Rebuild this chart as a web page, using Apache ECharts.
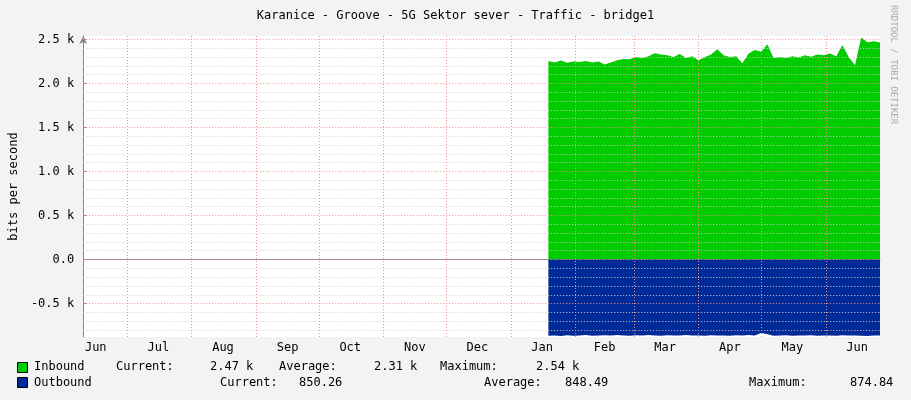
<!DOCTYPE html>
<html><head><meta charset="utf-8">
<script src="https://cdn.jsdelivr.net/npm/echarts@6/dist/echarts.min.js"></script>
<style>html,body{margin:0;background:#f3f3f3}#c{width:911px;height:400px}</style>
</head><body><div id="c"></div>
<script>
const startDate = '2023-01-19';
const stepDays = 3;
const inbound = [2257,2240,2262,2235,2250,2245,2255,2238,2250,2215,2240,2265,2280,2275,
2300,2290,2310,2345,2330,2320,2300,2335,2290,2310,2265,2300,2330,2390,2320,2300,2310,2230,2340,2380,
2360,2446,2287,2300,2290,2310,2295,2320,2303,2330,2322,2340,2310,2435,2300,2207,2522,2470,2480,2465];
const outbound = [-865,-862,-868,-860,-866,-864,-858,-866,-862,-860,-864,-858,-862,-866,
-860,-864,-858,-862,-866,-860,-864,-862,-858,-864,-862,-866,-860,-864,-862,-866,-860,-864,-858,-862,
-835,-850,-866,-864,-860,-866,-862,-864,-860,-866,-862,-864,-866,-860,-864,-862,-866,-868,-864,-862];
const monthLabels = ['Jun','Jul','Aug','Sep','Oct','Nov','Dec','Jan','Feb','Mar','Apr','May','Jun'];
const monthLabelDates = ['2022-06-16','2022-07-16','2022-08-16','2022-09-16','2022-10-16','2022-11-16','2022-12-16','2023-01-16','2023-02-15','2023-03-16','2023-04-16','2023-05-16','2023-06-16'];
const monthStarts = ['2022-07-01','2022-08-01','2022-09-01','2022-10-01','2022-11-01','2022-12-01','2023-01-01','2023-02-01','2023-03-01','2023-04-01','2023-05-01','2023-06-01'];
const yTicks = [-500,0,500,1000,1500,2000,2500];
const yTickLabels = ['-0.5 k','0.0','0.5 k','1.0 k','1.5 k','2.0 k','2.5 k'];
const xMin = '2022-06-10', xMax = '2023-06-27';

const t = s => new Date(s + 'T00:00:00Z').getTime();
const t0 = t(startDate);
const ts = i => t0 + i * stepDays * 86400000;
const inData = inbound.map((v,i)=>[ts(i),v]);
const outData = outbound.map((v,i)=>[ts(i),v]);
const labelTs = monthLabelDates.map(t);
const minor = [];
for (let v=-800; v<=2500; v+=100) if (v%500!==0) minor.push(v);
const font = 'DejaVu Sans Mono';
const dotted = (c)=>({color:c,type:[1,2],width:1});
const ml = [];
minor.forEach(v=>ml.push({yAxis:v,lineStyle:dotted('#cfcfcf')}));
yTicks.forEach(v=>ml.push({yAxis:v,lineStyle:dotted('#f09090')}));
monthStarts.forEach(d=>ml.push({xAxis:t(d),lineStyle:dotted('#f09090')}));

const chart = echarts.init(document.getElementById('c'));
const txt = (x,y,s)=>({type:'text',left:x,top:y,style:{text:s,font:'12px '+font,fill:'#000'}});
chart.setOption({
  backgroundColor:'#f3f3f3',
  animation:false,
  title:{text:'Karanice - Groove - 5G Sektor sever - Traffic - bridge1',left:'center',top:5,
    textStyle:{fontFamily:font,fontSize:12,fontWeight:'normal',color:'#000'}},
  grid:{left:81,right:31,top:36,bottom:63,show:true,backgroundColor:'#fff',borderWidth:0},
  xAxis:{type:'value',min:t(xMin),max:t(xMax),
    axisLine:{lineStyle:{color:'#888'},symbol:['none','arrow'],symbolSize:[6,8]},
    axisTick:{show:false},
    splitLine:{show:false},
    axisLabel:{customValues:labelTs,formatter:(v)=>{const i=labelTs.indexOf(v);return i<0?'':monthLabels[i];},
      fontFamily:font,fontSize:12,color:'#000',margin:5}},
  yAxis:{type:'value',min:-880,max:2540,
    axisLine:{show:true,lineStyle:{color:'#888'},symbol:['none','arrow'],symbolSize:[6,8]},
    axisTick:{show:true,customValues:yTicks,length:3,inside:true,lineStyle:{color:'#888'}},
    splitLine:{show:false},
    name:'bits per second',nameLocation:'middle',nameGap:62,
    nameTextStyle:{fontFamily:font,fontSize:12,color:'#000'},
    axisLabel:{customValues:yTicks,formatter:(v)=>{const i=yTicks.indexOf(v);return i<0?'':yTickLabels[i];},
      fontFamily:font,fontSize:12,color:'#000',margin:9}},
  series:[
    {type:'line',data:[],markLine:{silent:true,symbol:'none',label:{show:false},data:ml,animation:false},z:1},
    {name:'Inbound',type:'line',data:inData,symbol:'none',lineStyle:{width:0},
      areaStyle:{color:'#00cc00',opacity:1},z:2},
    {name:'Outbound',type:'line',data:outData,symbol:'none',lineStyle:{width:0},
      areaStyle:{color:'#002a97',opacity:1},z:2}
  ],
  graphic:[
    {type:'rect',left:17,top:362,shape:{width:10,height:10},style:{fill:'#00cc00',stroke:'#000'}},
    {type:'rect',left:17,top:377,shape:{width:10,height:10},style:{fill:'#002a97',stroke:'#000'}},
    txt(34,361,'Inbound'),txt(116,361,'Current:'),txt(210,361,'2.47 k'),
    txt(279,361,'Average:'),txt(374,361,'2.31 k'),txt(440,361,'Maximum:'),txt(536,361,'2.54 k'),
    txt(34,377,'Outbound'),txt(220,377,'Current:'),txt(299,377,'850.26'),
    txt(484,377,'Average:'),txt(565,377,'848.49'),txt(749,377,'Maximum:'),txt(850,377,'874.84'),
    {type:'text',x:898,y:5,rotation:-Math.PI/2,style:{text:'RRDTOOL / TOBI OETIKER',font:'9px '+font,fill:'#aaa'}}
  ]
});
</script></body></html>
